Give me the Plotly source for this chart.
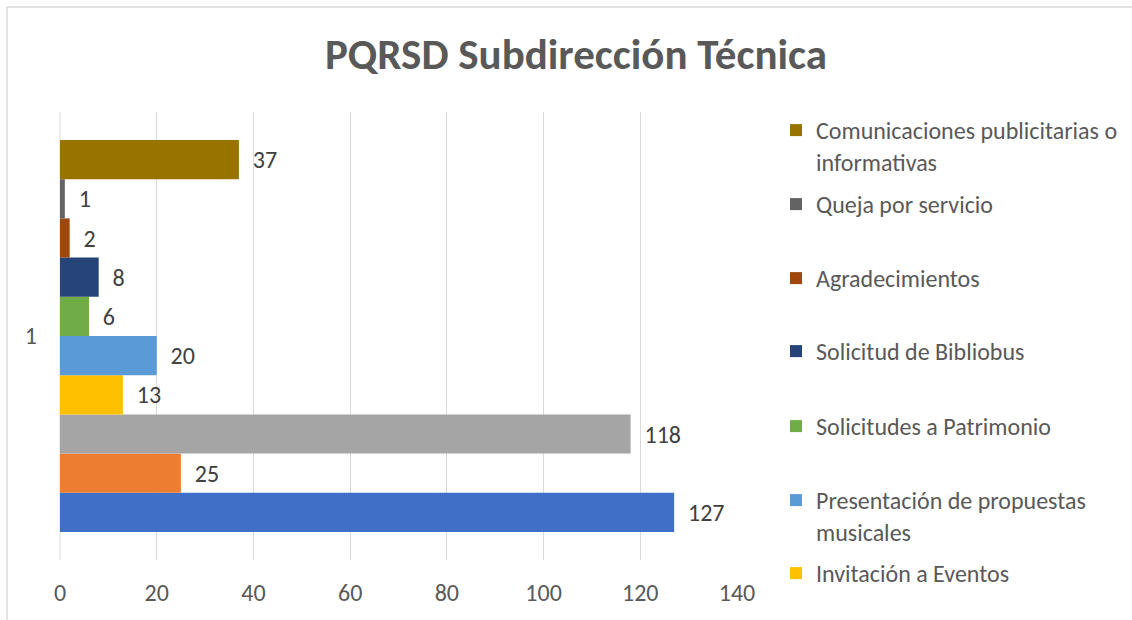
import plotly.graph_objects as go

# ---- data (bottom to top order in the cluster) ----
series_names = [
    "",  # not visible in legend (cut off)
    "",  # not visible in legend (cut off)
    "",  # not visible in legend (cut off)
    "Invitación a Eventos",
    "Presentación de propuestas<br>musicales",
    "Solicitudes a Patrimonio",
    "Solicitud de Bibliobus",
    "Agradecimientos",
    "Queja por servicio",
    "Comunicaciones publicitarias o<br>informativas",
]
series_values = [127, 25, 118, 13, 20, 6, 8, 2, 1, 37]
series_colors = ["#3F6FC6", "#ED7D31", "#A5A5A5", "#FFC000", "#5B9BD5",
                 "#70AD47", "#264478", "#9E480E", "#636363", "#997300"]
category = ["1"]
x_ticks = [0, 20, 40, 60, 80, 100, 120, 140]

# ---- layout geometry (pixels) ----
W, H = 1132, 620
L, R, T, B = 60, 737, 112, 560
pw, ph = R - L, B - T

def px_x(p):
    return (p - L) / pw

def px_y(p):
    return (B - p) / ph

FONT = "Carlito, Lato, sans-serif"
legend_first_line_y = [574, 501, 427, 352, 279, 205, 131]  # Invitación ... Comunicaciones

fig = go.Figure()
legend_idx = 0
layout_legends = {}
for i, (nm, v, c) in enumerate(zip(series_names, series_values, series_colors)):
    show = nm != ""
    kw = {}
    if show:
        key = "legend" if legend_idx == 0 else f"legend{legend_idx + 1}"
        kw["legend"] = key
        layout_legends[key] = dict(
            xref="container", yref="container",
            x=776 / W, y=1 - (legend_first_line_y[legend_idx] - 23) / H,
            xanchor="left", yanchor="top", valign="top",
            bgcolor="rgba(0,0,0,0)",
            font=dict(family=FONT, size=24, color="#595959"),
        )
        legend_idx += 1
    fig.add_trace(go.Bar(
        y=category, x=[v], orientation="h", name=nm if show else f"s{i}",
        marker=dict(color=c, line=dict(width=0)),
        text=["\u00a0\u00a0" + str(v)], textposition="outside",
        textfont=dict(family=FONT, size=24, color="#404040"),
        cliponaxis=False, showlegend=show, **kw,
    ))

fig.update_layout(
    width=W, height=H,
    margin=dict(l=L, r=W - R, t=T, b=H - B, autoexpand=False),
    paper_bgcolor="white", plot_bgcolor="white",
    barmode="group", bargap=0.125, bargroupgap=0,
    title=dict(text="<b>PQRSD Subdirección Técnica</b>",
               x=px_x(576), xanchor="center", xref="paper",
               y=(H - 54) / H, yanchor="middle",
               font=dict(family=FONT, size=43, color="#595959")),
    xaxis=dict(range=[0, 140], tickvals=x_ticks, showgrid=True,
               gridcolor="#D9D9D9", gridwidth=1, zeroline=False,
               showline=False, ticks="", ticklabelstandoff=16,
               tickfont=dict(family=FONT, size=24, color="#595959")),
    yaxis=dict(type="category", showgrid=False, zeroline=False,
               showline=False, ticks="", ticklabelstandoff=22,
               tickfont=dict(family=FONT, size=24, color="#595959")),
    shapes=[
        dict(type="line", xref="paper", yref="paper",
             x0=px_x(7), x1=px_x(W + 5), y0=px_y(7), y1=px_y(7),
             line=dict(color="#D9D9D9", width=1.5)),
        dict(type="line", xref="paper", yref="paper",
             x0=px_x(7), x1=px_x(7), y0=px_y(7), y1=px_y(H + 5),
             line=dict(color="#D9D9D9", width=1.5)),
        dict(type="line", xref="paper", yref="paper",
             x0=0, x1=0, y0=0, y1=1, layer="below",
             line=dict(color="#D9D9D9", width=1)),
    ],
    **layout_legends,
)

fig.write_html("out.html", config={"displayModeBar": False},
               post_script="document.body.style.margin='0px';")
